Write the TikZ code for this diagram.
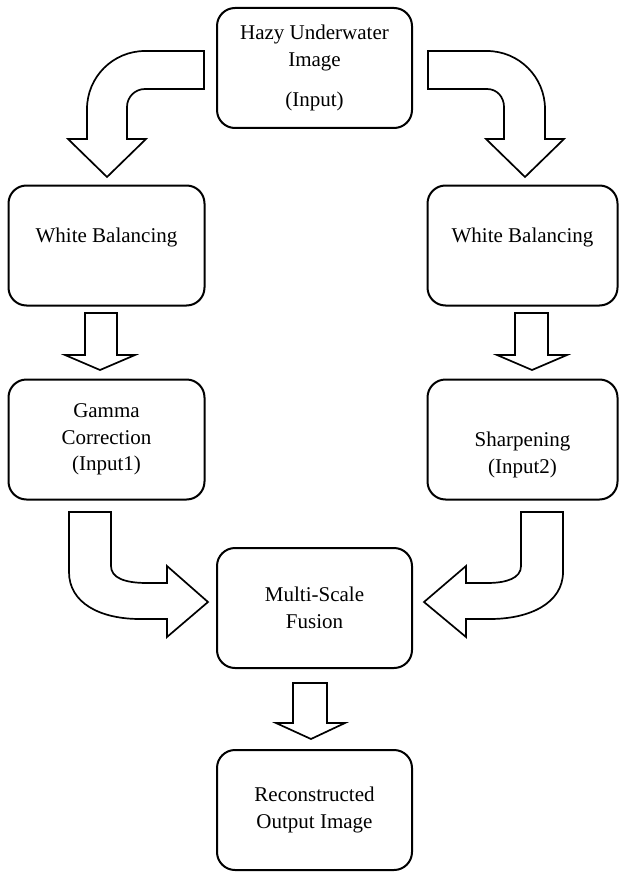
\documentclass[tikz,border=0pt]{standalone}
\usepackage{fontspec}
\setmainfont{Liberation Serif}
\usetikzlibrary{positioning}

\tikzset{
	procbox/.style={draw, line width=2pt, rounded corners=18pt, minimum width=196pt,
		minimum height=120pt, align=center, font=\fontsize{21}{26.5}\selectfont},
	fatarrow/.style={draw, line width=1.7pt, fill=white, line join=miter},
}

\begin{document}
\begin{tikzpicture}[x=1pt, y=-1pt]
	\useasboundingbox (0,0) rectangle (620,872);

	\node[procbox, minimum width=195pt] (hazy) at (314.5,68) {Hazy Underwater\\Image\\[14pt](Input)};
	\node[procbox, text height=14pt, text depth=21pt] (wbl) at (106.5,245.5) {White Balancing};
	\node[procbox, minimum width=190pt, text height=14pt, text depth=21pt] (wbr) at (522.5,245.5) {White Balancing};
	\node[procbox, below=72pt of wbl] (gamma) {Gamma\\Correction\\(Input1)};
	\node[procbox, minimum width=190pt, below=72pt of wbr] (sharp) {\strut\\Sharpening\\(Input2)};
	\node[procbox, minimum width=195pt] (fusion) at (314.5,608) {Multi-Scale\\Fusion};
	\node[procbox, minimum width=195pt, below=80pt of fusion] (recon) {Reconstructed\\Output Image};

	% hazy -> white balancing (left)
	\draw[fatarrow] (204,51) -- (145,51) .. controls (113,51) and (87,77) .. (87,109) -- (87,139)
		-- (68,139) -- (107,177) -- (146,139) -- (127,139) -- (127,107)
		.. controls (127,97) and (135,89) .. (145,89) -- (204,89) -- cycle;
	% hazy -> white balancing (right)
	\draw[fatarrow] (428,51) -- (487,51) .. controls (519,51) and (545,77) .. (545,109) -- (545,139)
		-- (564,139) -- (525,177) -- (486,139) -- (504,139) -- (504,107)
		.. controls (504,97) and (497,89) .. (487,89) -- (428,89) -- cycle;

	% straight ones
	\draw[fatarrow] (85,313) -- (117,313) -- (117,355) -- (135,355) -- (100,370)
		-- (65,355) -- (85,355) -- cycle;
	\draw[fatarrow] (515,313) -- (548,313) -- (548,355) -- (567,355) -- (532,370)
		-- (497,355) -- (515,355) -- cycle;
	\draw[fatarrow] (293,683) -- (327,683) -- (327,723) -- (345,723) -- (311,739)
		-- (276,723) -- (293,723) -- cycle;

	% inputs -> fusion
	\draw[fatarrow] (69,512) -- (111,512) -- (111,566) .. controls (111,578) and (125,583) .. (147,583)
		-- (167,583) -- (167,566) -- (208,602) -- (167,637) -- (167,619) -- (140,619)
		.. controls (100,619) and (69,603) .. (69,572) -- cycle;
	\draw[fatarrow] (563,512) -- (521,512) -- (521,566) .. controls (521,578) and (507,583) .. (487,583)
		-- (466,583) -- (466,566) -- (424,602) -- (466,637) -- (466,619) -- (490,619)
		.. controls (530,619) and (563,603) .. (563,572) -- cycle;
\end{tikzpicture}
\end{document}
